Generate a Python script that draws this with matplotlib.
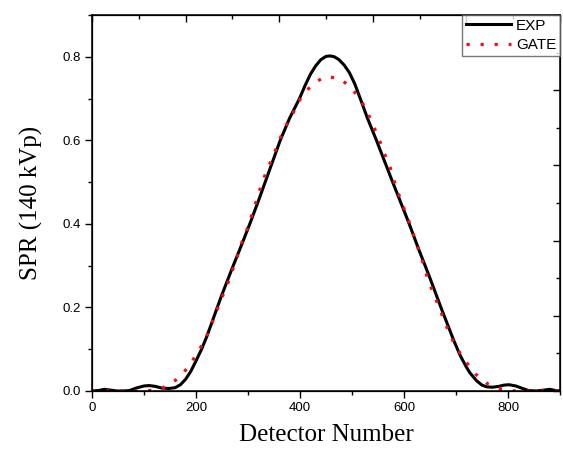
import matplotlib
matplotlib.use('Agg')
import matplotlib.pyplot as plt
from matplotlib.ticker import MultipleLocator

# values
exp_x = [0, 12, 24, 36, 48, 60, 72, 85, 100, 110, 122, 134, 148, 160, 170,
         180, 190, 200, 210, 220, 230, 240, 250, 270, 290, 305, 320, 340,
         362, 380, 399, 410, 420, 430, 440, 450, 458, 466, 475, 485, 495,
         505, 515, 530, 547, 575, 610, 628, 650, 671, 695, 708, 720, 727,
         740, 750, 759, 770, 782, 792, 802, 815, 828, 840, 855, 868, 880,
         892, 900]
exp_y = [0.0, 0.001, 0.004, 0.002, 0.0, 0.0, 0.001, 0.007, 0.012, 0.013,
         0.011, 0.007, 0.006, 0.008, 0.015, 0.028, 0.047, 0.072, 0.098,
         0.128, 0.162, 0.197, 0.231, 0.295, 0.357, 0.405, 0.455, 0.524, 0.6,
         0.653, 0.7, 0.732, 0.758, 0.778, 0.793, 0.801, 0.802, 0.8, 0.793,
         0.78, 0.762, 0.736, 0.703, 0.652, 0.6, 0.51, 0.4, 0.34, 0.27, 0.2,
         0.123, 0.085, 0.057, 0.043, 0.024, 0.014, 0.01, 0.009, 0.011,
         0.014, 0.015, 0.012, 0.006, 0.001, 0.0, 0.002, 0.004, 0.001, 0.0]

gate_x = [0, 28, 54, 81, 106, 134, 161, 184, 202, 217, 228, 238, 248, 259,
          269, 278, 286, 297, 306, 314, 322, 331, 341, 352, 363, 376, 390,
          403, 424, 448, 477, 496, 515, 529, 541, 552, 562, 573, 581, 590,
          600, 610, 619, 628, 637, 645, 655, 666, 676, 687, 699, 716, 737,
          762, 788, 814, 840, 870, 900]
gate_y = [0.0, 0.0, 0.0, 0.0, 0.0, 0.006, 0.026, 0.055, 0.09, 0.121, 0.153,
          0.186, 0.219, 0.25, 0.285, 0.317, 0.349, 0.383, 0.416, 0.447,
          0.479, 0.511, 0.541, 0.574, 0.608, 0.642, 0.673, 0.705, 0.734,
          0.753, 0.748, 0.728, 0.701, 0.669, 0.635, 0.603, 0.569, 0.537,
          0.503, 0.47, 0.437, 0.404, 0.371, 0.338, 0.305, 0.271, 0.238,
          0.205, 0.173, 0.139, 0.107, 0.075, 0.041, 0.016, 0.004, 0.0, 0.0,
          0.0, 0.0]

fig = plt.figure(figsize=(5.63, 4.53), dpi=100)
ax = fig.add_axes([0.1634, 0.1369, 0.8313, 0.83])

ax.plot(exp_x, exp_y, color='black', linewidth=2.2, label='EXP')
ax.plot(gate_x, gate_y, color='#ee1111', linewidth=2.3,
        linestyle=(0, (1, 3.4)), label='GATE')

ax.set_xlim(0, 900)
ax.set_ylim(0, 0.9)
ax.xaxis.set_major_locator(MultipleLocator(200))
ax.xaxis.set_minor_locator(MultipleLocator(100))
ax.yaxis.set_major_locator(MultipleLocator(0.2))
ax.yaxis.set_minor_locator(MultipleLocator(0.1))
ax.yaxis.set_major_formatter(plt.FuncFormatter(lambda v, p: '%.1f' % v))

ax.tick_params(which='major', length=5, width=1, direction='out',
               labelsize=9.5, pad=3)
ax.tick_params(which='minor', length=3, width=1, direction='out')
for lab in ax.get_xticklabels() + ax.get_yticklabels():
    lab.set_family('Liberation Sans')
for s in ax.spines.values():
    s.set_linewidth(1.1)

# unlabeled mirror ticks on top and right (0..1 scale)
top = ax.twiny()
top.set_xlim(0, 1)
top.xaxis.set_major_locator(MultipleLocator(0.2))
top.xaxis.set_minor_locator(MultipleLocator(0.1))
top.tick_params(which='major', direction='in', length=5, width=1, labeltop=False)
top.tick_params(which='minor', direction='in', length=3, width=1)
right = ax.twinx()
right.set_ylim(0, 1)
right.yaxis.set_major_locator(MultipleLocator(0.2))
right.yaxis.set_minor_locator(MultipleLocator(0.1))
right.tick_params(which='major', direction='in', length=5, width=1, labelright=False)
right.tick_params(which='minor', direction='in', length=3, width=1)

ax.set_xlabel('Detector Number', family='Liberation Serif', fontsize=18,
              labelpad=7)
ax.set_ylabel('SPR (140 kVp)', family='Liberation Serif', fontsize=18,
              labelpad=14)

leg = right.legend(*ax.get_legend_handles_labels(), loc='upper right',
                   bbox_to_anchor=(1, 1), borderaxespad=0, fancybox=False,
                   edgecolor='#555555', prop={'family': 'Liberation Sans', 'size': 11},
                   handlelength=3.0, handletextpad=0.3, borderpad=0.25,
                   labelspacing=0.35)
leg.get_frame().set_linewidth(1.0)

plt.savefig('out.png', dpi=100)
